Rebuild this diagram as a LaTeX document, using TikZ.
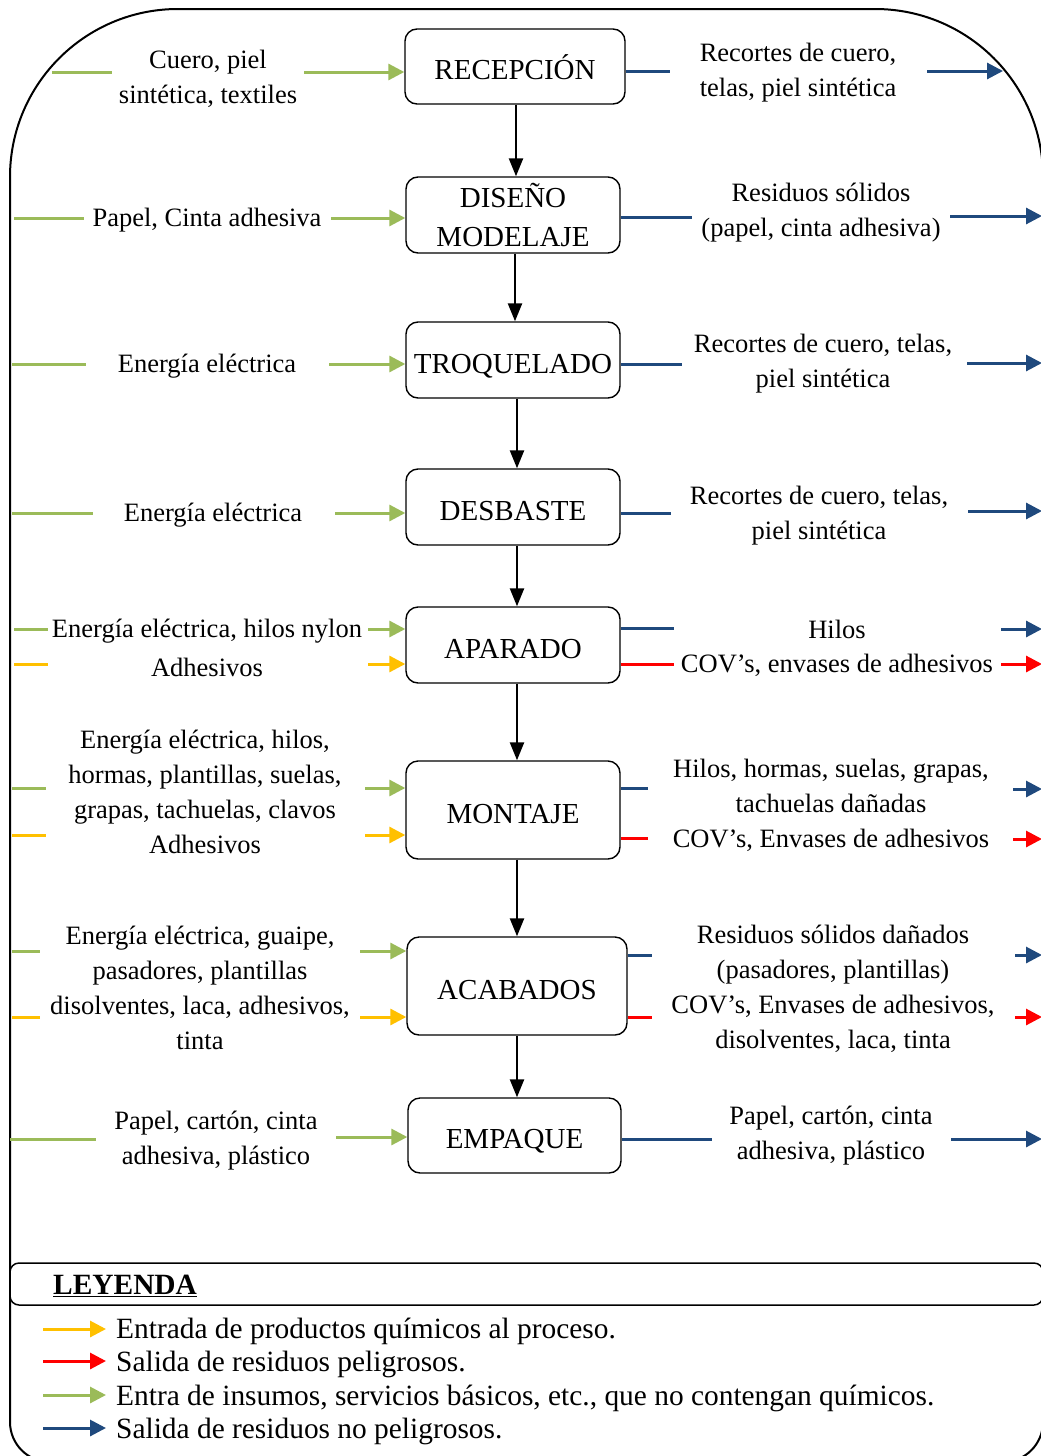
\documentclass[tikz,border=0pt]{standalone}
\usepackage{fontspec}
\setmainfont{Liberation Serif}
\usetikzlibrary{arrows.meta}
\definecolor{ingreen}{RGB}{155,187,89}
\definecolor{inyellow}{RGB}{255,192,0}
\definecolor{outred}{RGB}{255,0,0}
\definecolor{outblue}{RGB}{31,73,125}
\tikzset{
  procbase/.style={draw=black, line width=1.4pt, rounded corners=12pt, inner sep=0pt,
    align=center, font=\fontsize{29}{39}\selectfont},
  procbox/.style={procbase, text height=26pt, text depth=0pt},
  lbl/.style={inner sep=0pt, align=center, yshift=-2pt, font=\fontsize{26.5}{35}\selectfont},
  legtext/.style={inner sep=0pt, anchor=west, yshift=-2pt, font=\fontsize{29.4}{33}\selectfont},
  flowline/.style={line width=3pt, line cap=butt},
  flowarrow/.style={line width=3pt, -{Triangle[length=16pt,width=16pt]}},
  mainarrow/.style={line width=2.4pt, black, -{Triangle[length=18pt,width=14pt]}},
  frame/.style={draw=black, line width=2pt}
}
\begin{document}
\begin{tikzpicture}[x=1pt,y=-1pt]
\useasboundingbox (0,0) rectangle (1041,1456);
\fill[white] (0,0) rectangle (1041,1456);

% outer frame
\draw[frame] (10,700) [rounded corners=168pt] -- (10,9) -- (1043,9) -- (1043,700)
  [rounded corners=40pt] -- (1043,1462) -- (10,1462) -- cycle;

% process steps
\node[procbox, minimum width=220pt, minimum height=75pt] (rec) at (515,66.5) {RECEPCIÓN};
\node[procbase, minimum width=214pt, minimum height=76pt] (dis) at (513,215) {DISEÑO\\MODELAJE};
\node[procbox, minimum width=214pt, minimum height=76pt] (tro) at (513,360) {TROQUELADO};
\node[procbox, minimum width=214pt, minimum height=76pt] (des) at (513,507) {DESBASTE};
\node[procbox, minimum width=214pt, minimum height=76pt] (apa) at (513,645) {APARADO};
\node[procbox, minimum width=214pt, minimum height=98pt] (mon) at (513,810) {MONTAJE};
\node[procbox, minimum width=220pt, minimum height=98pt] (aca) at (517,986) {ACABADOS};
\node[procbox, minimum width=213pt, minimum height=75pt] (emp) at (514.5,1135.5) {EMPAQUE};

% main flow
\draw[mainarrow] ([xshift=1pt]rec.south) -- ([xshift=1pt]rec.south |- dis.north);
\draw[mainarrow] ([xshift=2pt]dis.south) -- ([xshift=2pt]dis.south |- tro.north);
\draw[mainarrow] ([xshift=4pt]tro.south) -- ([xshift=4pt]tro.south |- des.north);
\draw[mainarrow] ([xshift=4pt]des.south) -- ([xshift=4pt]des.south |- apa.north);
\draw[mainarrow] ([xshift=4pt]apa.south) -- ([xshift=4pt]apa.south |- mon.north);
\draw[mainarrow] ([xshift=4pt]mon.south) -- ([xshift=4pt]mon.south |- aca.north);
\draw[mainarrow] (aca.south) -- (aca.south |- emp.north);

% ---------- inputs ----------
% RECEPCION
\node[lbl] (i1) at (208,76.5) {Cuero, piel\\sintética, textiles};
\coordinate (i1a) at (52,72); \coordinate (i1b) at (112,72); \coordinate (i1c) at (304,72);
\draw[flowline, ingreen] (i1a) -- (i1b);
\draw[flowarrow, ingreen] (i1c) -- (i1c -| rec.west);
% DISENO
\node[lbl] (i2) at (207,218) {Papel, Cinta adhesiva};
\coordinate (i2a) at (14,218); \coordinate (i2b) at (84,218); \coordinate (i2c) at (331,218);
\draw[flowline, ingreen] (i2a) -- (i2b);
\draw[flowarrow, ingreen] (i2c) -- (i2c -| dis.west);
% TROQUELADO
\node[lbl] (i3) at (207,364) {Energía eléctrica};
\coordinate (i3a) at (12,364); \coordinate (i3b) at (86,364); \coordinate (i3c) at (329,364);
\draw[flowline, ingreen] (i3a) -- (i3b);
\draw[flowarrow, ingreen] (i3c) -- (i3c -| tro.west);
% DESBASTE
\node[lbl] (i4) at (213,513) {Energía eléctrica};
\coordinate (i4a) at (12,513); \coordinate (i4b) at (93,513); \coordinate (i4c) at (335,513);
\draw[flowline, ingreen] (i4a) -- (i4b);
\draw[flowarrow, ingreen] (i4c) -- (i4c -| des.west);
% APARADO
\node[lbl] (i5) at (207,629) {Energía eléctrica, hilos nylon};
\node[lbl] (i5y) at (207,665) {Adhesivos};
\coordinate (i5a) at (14,629); \coordinate (i5b) at (48,629); \coordinate (i5c) at (368,629);
\coordinate (i5d) at (14,664); \coordinate (i5e) at (48,664); \coordinate (i5f) at (368,664);
\draw[flowline, ingreen] (i5a) -- (i5b);
\draw[flowarrow, ingreen] (i5c) -- (i5c -| apa.west);
\draw[flowline, inyellow] (i5d) -- (i5e);
\draw[flowarrow, inyellow] (i5f) -- (i5f -| apa.west);
% MONTAJE
\node[lbl] (i6) at (205,790) {Energía eléctrica, hilos,\\hormas, plantillas, suelas,\\grapas, tachuelas, clavos\\Adhesivos};
\coordinate (i6a) at (12,788); \coordinate (i6b) at (46,788); \coordinate (i6c) at (365,788);
\coordinate (i6d) at (12,835); \coordinate (i6e) at (46,835); \coordinate (i6f) at (365,835);
\draw[flowline, ingreen] (i6a) -- (i6b);
\draw[flowarrow, ingreen] (i6c) -- (i6c -| mon.west);
\draw[flowline, inyellow] (i6d) -- (i6e);
\draw[flowarrow, inyellow] (i6f) -- (i6f -| mon.west);
% ACABADOS
\node[lbl] (i7) at (200,986) {Energía eléctrica, guaipe,\\pasadores, plantillas\\disolventes, laca, adhesivos,\\tinta};
\coordinate (i7a) at (12,951); \coordinate (i7b) at (40,951); \coordinate (i7c) at (360,951);
\coordinate (i7d) at (12,1017); \coordinate (i7e) at (40,1017); \coordinate (i7f) at (360,1017);
\draw[flowline, ingreen] (i7a) -- (i7b);
\draw[flowarrow, ingreen] (i7c) -- (i7c -| aca.west);
\draw[flowline, inyellow] (i7d) -- (i7e);
\draw[flowarrow, inyellow] (i7f) -- (i7f -| aca.west);
% EMPAQUE
\node[lbl] (i8) at (216,1139) {Papel, cartón, cinta\\adhesiva, plástico};
\coordinate (i8a) at (10,1139); \coordinate (i8b) at (96,1139); \coordinate (i8c) at (336,1137);
\draw[flowline, ingreen] (i8a) -- (i8b);
\draw[flowarrow, ingreen] (i8c) -- (i8c -| emp.west);

% ---------- outputs ----------
% RECEPCION
\node[lbl] (o1) at (798,71) {Recortes de cuero,\\telas, piel sintética};
\coordinate (o1b) at (670,71); \coordinate (o1c) at (927,71); \coordinate (o1d) at (1003,71);
\draw[flowline, outblue] (o1b -| rec.east) -- (o1b);
\draw[flowarrow, outblue] (o1c) -- (o1d);
% DISENO
\node[lbl] (o2) at (821,211) {Residuos sólidos\\(papel, cinta adhesiva)};
\coordinate (o2b) at (692,217); \coordinate (o2c) at (950,216); \coordinate (o2d) at (1042,216);
\draw[flowline, outblue] (o2b -| dis.east) -- (o2b);
\draw[flowarrow, outblue] (o2c) -- (o2d);
% TROQUELADO
\node[lbl] (o3) at (823,361.5) {Recortes de cuero, telas,\\piel sintética};
\coordinate (o3b) at (682,364); \coordinate (o3c) at (967,363); \coordinate (o3d) at (1042,363);
\draw[flowline, outblue] (o3b -| tro.east) -- (o3b);
\draw[flowarrow, outblue] (o3c) -- (o3d);
% DESBASTE
\node[lbl] (o4) at (819,513.5) {Recortes de cuero, telas,\\piel sintética};
\coordinate (o4b) at (671,513); \coordinate (o4c) at (968,511); \coordinate (o4d) at (1042,511);
\draw[flowline, outblue] (o4b -| des.east) -- (o4b);
\draw[flowarrow, outblue] (o4c) -- (o4d);
% APARADO
\node[lbl] (o5) at (837,627) {Hilos};
\node[lbl] (o5r) at (837,663) {COV’s, envases de adhesivos};
\coordinate (o5b) at (674,628); \coordinate (o5c) at (1001,629); \coordinate (o5d) at (1042,629);
\coordinate (o5e) at (674,664); \coordinate (o5f) at (1001,664); \coordinate (o5g) at (1042,664);
\draw[flowline, outblue] (o5b -| apa.east) -- (o5b);
\draw[flowarrow, outblue] (o5c) -- (o5d);
\draw[flowline, outred] (o5e -| apa.east) -- (o5e);
\draw[flowarrow, outred] (o5f) -- (o5g);
% MONTAJE
\node[lbl] (o6) at (831,803.5) {Hilos, hormas, suelas, grapas,\\tachuelas dañadas\\COV’s, Envases de adhesivos};
\coordinate (o6b) at (648,788); \coordinate (o6c) at (1013,789); \coordinate (o6d) at (1042,789);
\coordinate (o6e) at (648,838); \coordinate (o6f) at (1013,839); \coordinate (o6g) at (1042,839);
\draw[flowline, outblue] (o6b -| mon.east) -- (o6b);
\draw[flowarrow, outblue] (o6c) -- (o6d);
\draw[flowline, outred] (o6e -| mon.east) -- (o6e);
\draw[flowarrow, outred] (o6f) -- (o6g);
% ACABADOS
\node[lbl] (o7) at (833,987) {Residuos sólidos dañados\\(pasadores, plantillas)\\COV’s, Envases de adhesivos,\\disolventes, laca, tinta};
\coordinate (o7b) at (652,955); \coordinate (o7c) at (1015,955); \coordinate (o7d) at (1042,955);
\coordinate (o7e) at (652,1017); \coordinate (o7f) at (1015,1017); \coordinate (o7g) at (1042,1017);
\draw[flowline, outblue] (o7b -| aca.east) -- (o7b);
\draw[flowarrow, outblue] (o7c) -- (o7d);
\draw[flowline, outred] (o7e -| aca.east) -- (o7e);
\draw[flowarrow, outred] (o7f) -- (o7g);
% EMPAQUE
\node[lbl] (o8) at (831,1134) {Papel, cartón, cinta\\adhesiva, plástico};
\coordinate (o8b) at (712,1139); \coordinate (o8c) at (951,1139); \coordinate (o8d) at (1042,1139);
\draw[flowline, outblue] (o8b -| emp.east) -- (o8b);
\draw[flowarrow, outblue] (o8c) -- (o8d);

% ---------- legend ----------
\draw[black, line width=1.5pt, rounded corners=9pt, fill=white] (10,1263) rectangle (1043,1305);
\node[inner sep=0pt, anchor=west, yshift=-2pt, font=\fontsize{29.4}{33}\selectfont\bfseries] (leg) at (53,1284) {\underline{LEYENDA}};
\coordinate (l1a) at (43,1329); \coordinate (l1b) at (106,1329);
\coordinate (l2a) at (43,1361); \coordinate (l2b) at (106,1361);
\coordinate (l3a) at (43,1395); \coordinate (l3b) at (106,1395);
\coordinate (l4a) at (43,1428); \coordinate (l4b) at (106,1428);
\draw[flowarrow, inyellow] (l1a) -- (l1b);
\draw[flowarrow, outred] (l2a) -- (l2b);
\draw[flowarrow, ingreen] (l3a) -- (l3b);
\draw[flowarrow, outblue] (l4a) -- (l4b);
\node[legtext] (t1) at (116,1329) {Entrada de productos químicos al proceso.};
\node[legtext] (t2) at (116,1362) {Salida de residuos peligrosos.};
\node[legtext] (t3) at (116,1396) {Entra de insumos, servicios básicos, etc., que no contengan químicos.};
\node[legtext] (t4) at (116,1429) {Salida de residuos no peligrosos.};
\end{tikzpicture}
\end{document}
